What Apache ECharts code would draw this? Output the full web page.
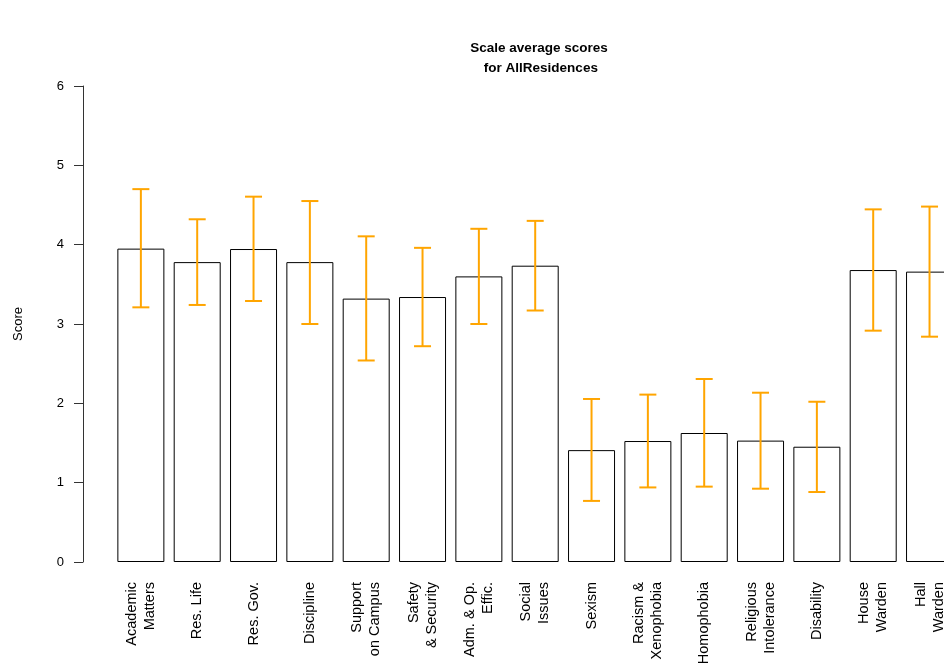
<!DOCTYPE html>
<html>
<head>
<meta charset="utf-8">
<script src="https://cdn.jsdelivr.net/npm/echarts@6/dist/echarts.min.js"></script>
<style>
html,body{margin:0;padding:0;background:#fff;overflow:hidden;width:944px;height:664px;}
#c{width:958px;height:664px;}
</style>
</head>
<body>
<div id="c"></div>
<script>
const categories = [
  "Academic\nMatters", "Res. Life", "Res. Gov.", "Discipline", "Support\non Campus",
  "Safety\n& Security", "Adm. & Op.\nEffic.", "Social\nIssues", "Sexism", "Racism &\nXenophobia",
  "Homophobia", "Religious\nIntolerance", "Disability", "House\nWarden", "Hall\nWarden"
];
const means = [3.95, 3.78, 3.945, 3.78, 3.32, 3.34, 3.60, 3.735, 1.41, 1.525, 1.626, 1.53, 1.453, 3.68, 3.66];
const lower = [3.21, 3.24, 3.29, 3.00, 2.54, 2.72, 3.00, 3.17, 0.77, 0.94, 0.95, 0.924, 0.882, 2.916, 2.84];
const upper = [4.70, 4.32, 4.605, 4.55, 4.105, 3.96, 4.20, 4.30, 2.055, 2.11, 2.307, 2.134, 2.02, 4.445, 4.48];
const yTicks = [0, 1, 2, 3, 4, 5, 6];

const FONT = "Liberation Sans, Arial, Helvetica, sans-serif";
const errData = categories.map((c, i) => [i, lower[i], upper[i]]);

const chart = echarts.init(document.getElementById('c'), null, {renderer: 'canvas', width: 958, height: 664});
chart.setOption({
  animation: false,
  backgroundColor: '#ffffff',
  title: {
    text: 'Scale average scores\n for AllResidences',
    left: 534, top: 33, textAlign: 'center',
    textStyle: {fontFamily: FONT, fontSize: 13.5, fontWeight: 'bold', color: '#000', lineHeight: 20}
  },
  grid: {left: 112.7, width: 845, top: 86, height: 476, containLabel: false, outerBoundsMode: 'none'},
  xAxis: {
    type: 'category',
    data: categories,
    axisLine: {show: false},
    axisTick: {show: false},
    axisLabel: {
      rotate: 90, interval: 0, margin: 20,
      fontFamily: FONT, fontSize: 14.5, color: '#000', lineHeight: 18, align: 'right'
    }
  },
  yAxis: {
    type: 'value',
    min: yTicks[0], max: yTicks[yTicks.length - 1], interval: 1,
    offset: 29.7,
    name: 'Score', nameLocation: 'middle', nameGap: 58,
    nameTextStyle: {fontFamily: FONT, fontSize: 13, color: '#000'},
    axisLine: {show: true, lineStyle: {color: '#333', width: 1}},
    axisTick: {show: true, length: 9, lineStyle: {color: '#333'}},
    axisLabel: {margin: 19, fontFamily: FONT, fontSize: 13, color: '#000'},
    splitLine: {show: false}
  },
  series: [
    {
      type: 'bar',
      data: means,
      barWidth: 47,
      itemStyle: {color: '#ffffff', borderColor: '#000000', borderWidth: 1}
    },
    {
      type: 'custom',
      data: errData,
      z: 10,
      renderItem: function (params, api) {
        const i = api.value(0);
        const lo = api.coord([i, api.value(1)]);
        const hi = api.coord([i, api.value(2)]);
        const hw = 8.5;
        const st = {stroke: '#FFA500', lineWidth: 2};
        return {
          type: 'group',
          children: [
            {type: 'line', shape: {x1: hi[0], y1: hi[1], x2: lo[0], y2: lo[1]}, style: st},
            {type: 'line', shape: {x1: hi[0] - hw, y1: hi[1], x2: hi[0] + hw, y2: hi[1]}, style: st},
            {type: 'line', shape: {x1: lo[0] - hw, y1: lo[1], x2: lo[0] + hw, y2: lo[1]}, style: st}
          ]
        };
      }
    }
  ]
});
</script>
</body>
</html>
